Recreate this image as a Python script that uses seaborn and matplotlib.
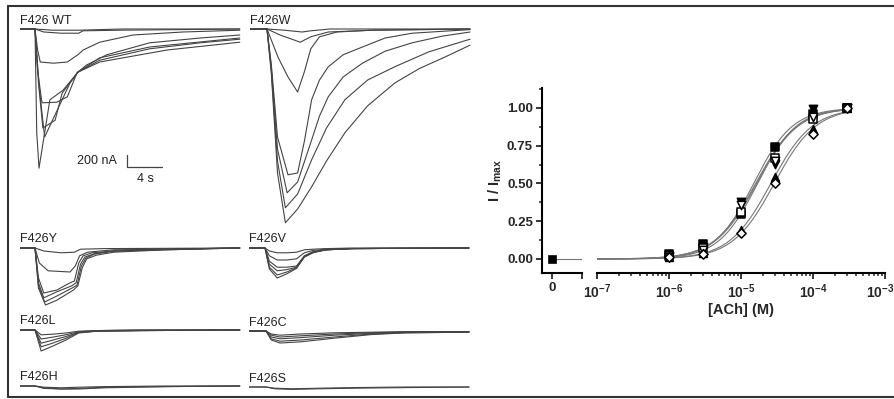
import numpy as np
import matplotlib
matplotlib.use("Agg")
import matplotlib.pyplot as plt
from matplotlib.lines import Line2D
from matplotlib.ticker import FixedLocator, NullFormatter
from matplotlib.transforms import ScaledTranslation
import seaborn as sns

sns.set_style("white")
plt.rcParams["font.family"] = ["Liberation Sans", "DejaVu Sans"]
plt.rcParams["mathtext.fontset"] = "custom"
plt.rcParams["mathtext.rm"] = "Liberation Sans"
plt.rcParams["mathtext.bf"] = "Liberation Sans:bold"
plt.rcParams["mathtext.it"] = "Liberation Sans:italic"

# ------------------------------------------------------------------ data
# Current traces: time (s, 0 = ACh application) and current (uA)
WT_T = [
    [-1.7, 0, 2, 5, 10, 23.4],
    [-1.7, 0, 1, 3, 5, 5.5, 9.7, 23.4],
    [-1.7, 0, 0.3, 0.6, 2.1, 3.7, 4.9, 5.5, 7.4, 11.2, 16.9, 23.4],
    [-1.7, 0, 0.3, 0.8, 2.5, 3.7, 4.8, 5.9, 8.2, 13.1, 18.9, 23.4],
    [-1.7, 0, 0.4, 0.9, 2.3, 3.1, 4.9, 7.4, 13.1, 18.9, 23.4],
    [-1.7, 0, 0.5, 1.1, 3.1, 4.0, 4.9, 7.4, 13.1, 23.4],
    [-1.7, 0, 0.2, 0.46, 1.7, 3.2, 4.9, 7.4, 15.1, 23.4],
]
WT_I = [
    [0, 0, -0.02, -0.02, 0, 0],
    [0, 0, -0.05, -0.07, -0.07, -0.03, -0.02, 0],
    [0, 0, -0.35, -0.55, -0.57, -0.55, -0.43, -0.35, -0.22, -0.10, -0.05, -0.02],
    [0, 0, -0.70, -1.23, -1.22, -1.13, -0.73, -0.60, -0.43, -0.23, -0.15, -0.10],
    [0, 0, -0.90, -1.65, -1.52, -1.07, -0.72, -0.52, -0.33, -0.23, -0.17],
    [0, 0, -1.00, -1.80, -1.18, -0.90, -0.72, -0.48, -0.30, -0.15],
    [0, 0, -1.73, -2.32, -1.18, -1.02, -0.72, -0.55, -0.35, -0.22],
]
W_T = [
    [-1.9, 0, 2, 4.0, 5, 7.2, 23.2],
    [-1.9, 0, 1.5, 3.8, 5.0, 7.0, 12, 23.2],
    [-1.9, 0, 1.26, 2.4, 3.5, 4.3, 5.0, 6.0, 8.0, 12, 23.2],
    [-1.9, 0, 0.5, 1.2, 2.4, 3.5, 4.3, 5.1, 6.0, 7.0, 8.7, 10.9, 13.5, 16.6, 23.2],
    [-1.9, 0, 0.5, 1.2, 2.3, 3.5, 5.1, 6.0, 7.0, 8.7, 10.9, 13.5, 16.6, 20.0, 23.2],
    [-1.9, 0, 0.5, 1.2, 2.1, 3.5, 5.1, 6.8, 8.9, 11.5, 14.6, 18.5, 23.2],
    [-1.9, 0, 0.5, 1.2, 2.1, 3.5, 5.1, 6.8, 8.9, 11.5, 14.6, 17.4, 20.3, 23.2],
]
W_I = [
    [0, 0, -0.02, -0.05, -0.03, 0, 0],
    [0, 0, -0.10, -0.22, -0.13, -0.05, -0.02, 0],
    [0, 0, -0.47, -0.80, -1.05, -0.70, -0.33, -0.13, -0.05, -0.02, 0],
    [0, 0, -0.60, -1.80, -2.43, -2.40, -1.85, -1.18, -0.85, -0.63, -0.43, -0.30, -0.15, -0.07, -0.01],
    [0, 0, -0.65, -2.00, -2.73, -2.55, -1.85, -1.45, -1.13, -0.80, -0.57, -0.37, -0.23, -0.12, -0.05],
    [0, 0, -0.70, -2.20, -2.98, -2.75, -2.18, -1.65, -1.18, -0.85, -0.63, -0.38, -0.17],
    [0, 0, -0.75, -2.40, -3.23, -3.00, -2.63, -2.20, -1.73, -1.28, -0.90, -0.66, -0.47, -0.27],
]
Y_T = [
    [-1.7, 0, 1, 3, 4.5, 5.2, 8, 23.4],
    [-1.7, 0, 0.5, 1.5, 4.0, 4.6, 5.1, 6, 9, 15, 23.4],
    [-1.7, 0, 0.4, 1.0, 2.5, 4.0, 4.5, 5.0, 5.5, 6.5, 9, 15, 23.4],
    [-1.7, 0, 0.4, 1.0, 2.5, 4.2, 4.7, 5.2, 5.7, 6.7, 9, 15, 23.4],
    [-1.7, 0, 0.4, 1.1, 2.5, 4.2, 4.8, 5.3, 5.8, 6.8, 9, 15, 23.4],
    [-1.7, 0, 0.4, 1.2, 2.5, 4.4, 4.9, 5.4, 5.9, 7.0, 9, 15, 23.4],
]
Y_I = [
    [0, 0, -0.05, -0.08, -0.07, -0.02, -0.01, 0],
    [0, 0, -0.25, -0.38, -0.40, -0.30, -0.13, -0.07, -0.03, -0.02, 0],
    [0, 0, -0.50, -0.75, -0.70, -0.58, -0.55, -0.25, -0.13, -0.08, -0.05, -0.02, 0],
    [0, 0, -0.58, -0.83, -0.73, -0.63, -0.58, -0.27, -0.15, -0.10, -0.05, -0.02, 0],
    [0, 0, -0.63, -0.90, -0.80, -0.67, -0.62, -0.30, -0.17, -0.10, -0.05, -0.03, 0],
    [0, 0, -0.67, -0.95, -0.87, -0.70, -0.63, -0.33, -0.18, -0.12, -0.07, -0.03, 0],
]
V_T = [[-1.8, 0, 0.5, 1.4, 2.5, 3.6, 4.5, 5.5, 7, 10, 23.3]] * 6
V_I = [
    [0, 0, -0.05, -0.08, -0.08, -0.07, -0.03, -0.02, -0.01, 0, 0],
    [0, 0, -0.13, -0.20, -0.20, -0.18, -0.08, -0.04, -0.02, -0.01, 0],
    [0, 0, -0.22, -0.32, -0.32, -0.30, -0.13, -0.06, -0.03, -0.01, 0],
    [0, 0, -0.27, -0.38, -0.36, -0.32, -0.14, -0.07, -0.03, -0.01, 0],
    [0, 0, -0.32, -0.45, -0.40, -0.33, -0.15, -0.07, -0.03, -0.01, 0],
    [0, 0, -0.35, -0.50, -0.43, -0.34, -0.15, -0.08, -0.03, -0.01, 0],
]
L_T = [[-1.7, 0, 0.7, 2, 3.5, 5, 7, 12, 23.4]] * 5
L_I = [
    [0, 0, -0.08, -0.07, -0.05, -0.02, -0.01, 0, 0],
    [0, 0, -0.15, -0.12, -0.08, -0.03, -0.01, 0, 0],
    [0, 0, -0.22, -0.17, -0.11, -0.04, -0.02, -0.01, 0],
    [0, 0, -0.28, -0.22, -0.14, -0.04, -0.02, -0.01, 0],
    [0, 0, -0.35, -0.27, -0.17, -0.05, -0.02, -0.01, 0],
]
C_T = [[-1.9, 0, 0.6, 1.6, 4, 7.8, 12, 16, 23.2]] * 5
C_I = [
    [0, 0, -0.05, -0.07, -0.05, -0.03, -0.02, -0.01, -0.01],
    [0, 0, -0.07, -0.10, -0.08, -0.05, -0.03, -0.02, -0.01],
    [0, 0, -0.10, -0.13, -0.11, -0.07, -0.04, -0.02, -0.01],
    [0, 0, -0.13, -0.17, -0.15, -0.10, -0.05, -0.03, -0.02],
    [0, 0, -0.15, -0.20, -0.18, -0.12, -0.06, -0.03, -0.02],
]
H_T = [[-1.7, 0, 1, 3, 5, 8, 15, 23.4]] * 3
H_I = [
    [0, 0, -0.02, -0.03, -0.02, -0.01, 0, 0],
    [0, 0, -0.03, -0.05, -0.04, -0.02, -0.01, 0],
    [0, 0, -0.04, -0.05, -0.05, -0.03, -0.01, 0],
]
S_T = [[-1.9, 0, 1, 3, 6, 10, 16, 23.2]] * 2
S_I = [
    [0, 0, -0.02, -0.03, -0.02, -0.01, 0, 0],
    [0, 0, -0.03, -0.04, -0.03, -0.02, -0.01, 0],
]
PANEL_NAMES = ["F426 WT", "F426W", "F426Y", "F426V", "F426L", "F426C", "F426H", "F426S"]
PANEL_T = [WT_T, W_T, Y_T, V_T, L_T, C_T, H_T, S_T]
PANEL_I = [WT_I, W_I, Y_I, V_I, L_I, C_I, H_I, S_I]

# Concentration-response data
CONC = [1e-6, 3e-6, 1e-5, 3e-5, 1e-4, 3e-4]
RESP_A = [0.03, 0.10, 0.30, 0.74, 0.96, 1.00]   # filled square
RESP_B = [0.02, 0.08, 0.38, 0.63, 0.99, 1.00]   # filled down-triangle
RESP_C = [0.02, 0.07, 0.31, 0.67, 0.93, 1.00]   # open square
RESP_D = [0.01, 0.06, 0.36, 0.65, 0.94, 1.00]   # open down-triangle
RESP_E = [0.01, 0.04, 0.19, 0.54, 0.86, 1.00]   # filled up-triangle
RESP_F = [0.01, 0.03, 0.17, 0.50, 0.83, 1.00]   # open diamond
EC50 = [1.5e-5, 1.6e-5, 1.7e-5, 1.65e-5, 2.6e-5, 2.9e-5]
HILL = [1.6, 1.5, 1.6, 1.5, 1.5, 1.5]
ZERO_RESP = 0.0
X_TICK_LABELS = [r"$\mathbf{10^{-7}}$", r"$\mathbf{10^{-6}}$", r"$\mathbf{10^{-5}}$",
                 r"$\mathbf{10^{-4}}$", r"$\mathbf{10^{-3}}$"]
Y_TICKS = [0.0, 0.25, 0.5, 0.75, 1.0]

# ------------------------------------------------------------------ layout
W, H = 894, 399
fig = plt.figure(figsize=(W / 100, H / 100), dpi=100)

def rect(x0, y_top, x1, y_bot):
    return [x0 / W, 1 - y_bot / H, (x1 - x0) / W, (y_bot - y_top) / H]

PX_PER_S = 8.75
PX_PER_UA = 60.0
# (left px, baseline px, onset px, extent below baseline px)
LAYOUT = [(20, 29, 35, 200), (250, 29, 267, 200),
          (20, 248, 35, 70), (249, 248, 265, 70),
          (20, 330, 35, 40), (249, 331, 266, 40),
          (20, 386, 35, 12), (249, 387, 266, 12)]
TRACE_COLOR = "#444444"
TEXT_COLOR = "#222222"

for k, (xl, yb, xo, below) in enumerate(LAYOUT):
    ax = fig.add_axes(rect(xl, yb - 25, xl + 222, yb + below))
    ax.set_xlim((xl - xo) / PX_PER_S, (xl + 222 - xo) / PX_PER_S)
    ax.set_ylim(-below / PX_PER_UA, 25 / PX_PER_UA)
    ax.axis("off")
    ax.patch.set_alpha(0)
    for t, i in zip(PANEL_T[k], PANEL_I[k]):
        sns.lineplot(x=t, y=i, ax=ax, sort=False, estimator=None,
                     color=TRACE_COLOR, linewidth=0.8, legend=False)
    ax.text((xl - xo) / PX_PER_S, 2.5 / PX_PER_UA, PANEL_NAMES[k], ha="left",
            va="bottom", fontsize=9, color=TEXT_COLOR, clip_on=False)
    if k == 0:
        # scale bar 200 nA / 4 s
        ax.plot([10.5, 10.5, 14.5], [-2.1, -2.3, -2.3], color=TRACE_COLOR, lw=0.9)
        ax.text(9.4, -2.2, "200 nA", ha="right", va="center", fontsize=9, color=TEXT_COLOR)
        ax.text(12.6, -2.5, "4 s", ha="center", va="center", fontsize=9, color=TEXT_COLOR)

# ---- concentration-response
YMIN, YMAX = -0.093, 1.132
ax0 = fig.add_axes(rect(542, 88, 582, 273))
ax1 = fig.add_axes(rect(597, 88, 885, 273))
for a in (ax0, ax1):
    a.set_ylim(YMIN, YMAX)
    a.patch.set_alpha(0)
    for s in ("top", "right"):
        a.spines[s].set_visible(False)
    for s in ("left", "bottom"):
        a.spines[s].set_linewidth(1.5)
        a.spines[s].set_color("black")

ax0.set_xlim(-1, 3)
sns.lineplot(x=[0, 3], y=[0, 0], ax=ax0, color="#777777", linewidth=0.8)
sns.scatterplot(x=[0], y=[ZERO_RESP], ax=ax0, marker="s", s=34, color="black",
                edgecolor="black", zorder=3, legend=False)
ax0.set_xticks([0, 3])
ax0.set_xticklabels(["0", ""])
ax0.set_yticks(Y_TICKS)
ax0.set_yticklabels([f"{v:.2f}" for v in Y_TICKS])
ax0.yaxis.set_minor_locator(FixedLocator([0.125, 0.375, 0.625, 0.875, 1.125]))
ax0.tick_params(axis="both", which="major", direction="out", length=4.5, width=1.3,
                labelsize=9.5, pad=2, left=True, bottom=True)
ax0.tick_params(axis="y", which="minor", direction="out", length=2.5, width=1.1, left=True)
for lab in ax0.get_xticklabels() + ax0.get_yticklabels():
    lab.set_fontweight("bold")
ax0.set_ylabel(r"$\mathbf{I\ /\ I_{max}}$", fontsize=10.5, labelpad=2)

ax1.set_xscale("log")
ax1.set_xlim(1e-7, 1e-3)
ax1.spines["left"].set_visible(False)
ax1.set_yticks([])
ax1.xaxis.set_major_locator(FixedLocator([1e-7, 1e-6, 1e-5, 1e-4, 1e-3]))
ax1.set_xticklabels(X_TICK_LABELS)
minor = [m * 10.0 ** e for e in range(-7, -3) for m in range(2, 10)]
ax1.xaxis.set_minor_locator(FixedLocator(minor))
ax1.xaxis.set_minor_formatter(NullFormatter())
ax1.tick_params(axis="x", which="major", direction="out", length=4.5, width=1.3,
                labelsize=10, pad=2, bottom=True)
ax1.tick_params(axis="x", which="minor", direction="out", length=2.5, width=1.1, bottom=True)
# keep the last decade label inside the picture
last = ax1.get_xticklabels()[-1]
last.set_transform(last.get_transform() + ScaledTranslation(-5 / 100, 0, fig.dpi_scale_trans))
ax1.set_xlabel("[ACh] (M)", fontsize=10.5, fontweight="bold", labelpad=2)

xs = np.logspace(-7, np.log10(3e-4), 200)
for ec, nh in zip(EC50, HILL):
    sns.lineplot(x=xs, y=1.0 / (1.0 + (ec / xs) ** nh), ax=ax1, color="#777777",
                 linewidth=0.8, legend=False)

SERIES = [RESP_A, RESP_B, RESP_C, RESP_D, RESP_E, RESP_F]
MARKERS = ["s", "v", "s", "v", "^", "D"]
FACES = ["black", "black", "white", "white", "black", "white"]
SIZES = [30, 36, 30, 36, 32, 22]
for resp, m, fc, sz in zip(SERIES, MARKERS, FACES, SIZES):
    sns.scatterplot(x=CONC, y=resp, ax=ax1, marker=m, s=sz, color=fc,
                    edgecolor="black", linewidth=1.1, zorder=3, legend=False)

# ---- outer frame (open on the right)
fr = dict(color="#333333", lw=1.5, transform=fig.transFigure)
fig.add_artist(Line2D([8 / W, 8 / W], [1 - 6 / H, 1 - 397 / H], **fr))
fig.add_artist(Line2D([8 / W, 1], [1 - 6 / H, 1 - 6 / H], **fr))
fig.add_artist(Line2D([8 / W, 1], [1 - 397 / H, 1 - 397 / H], **fr))

fig.savefig("out.png", dpi=100)
